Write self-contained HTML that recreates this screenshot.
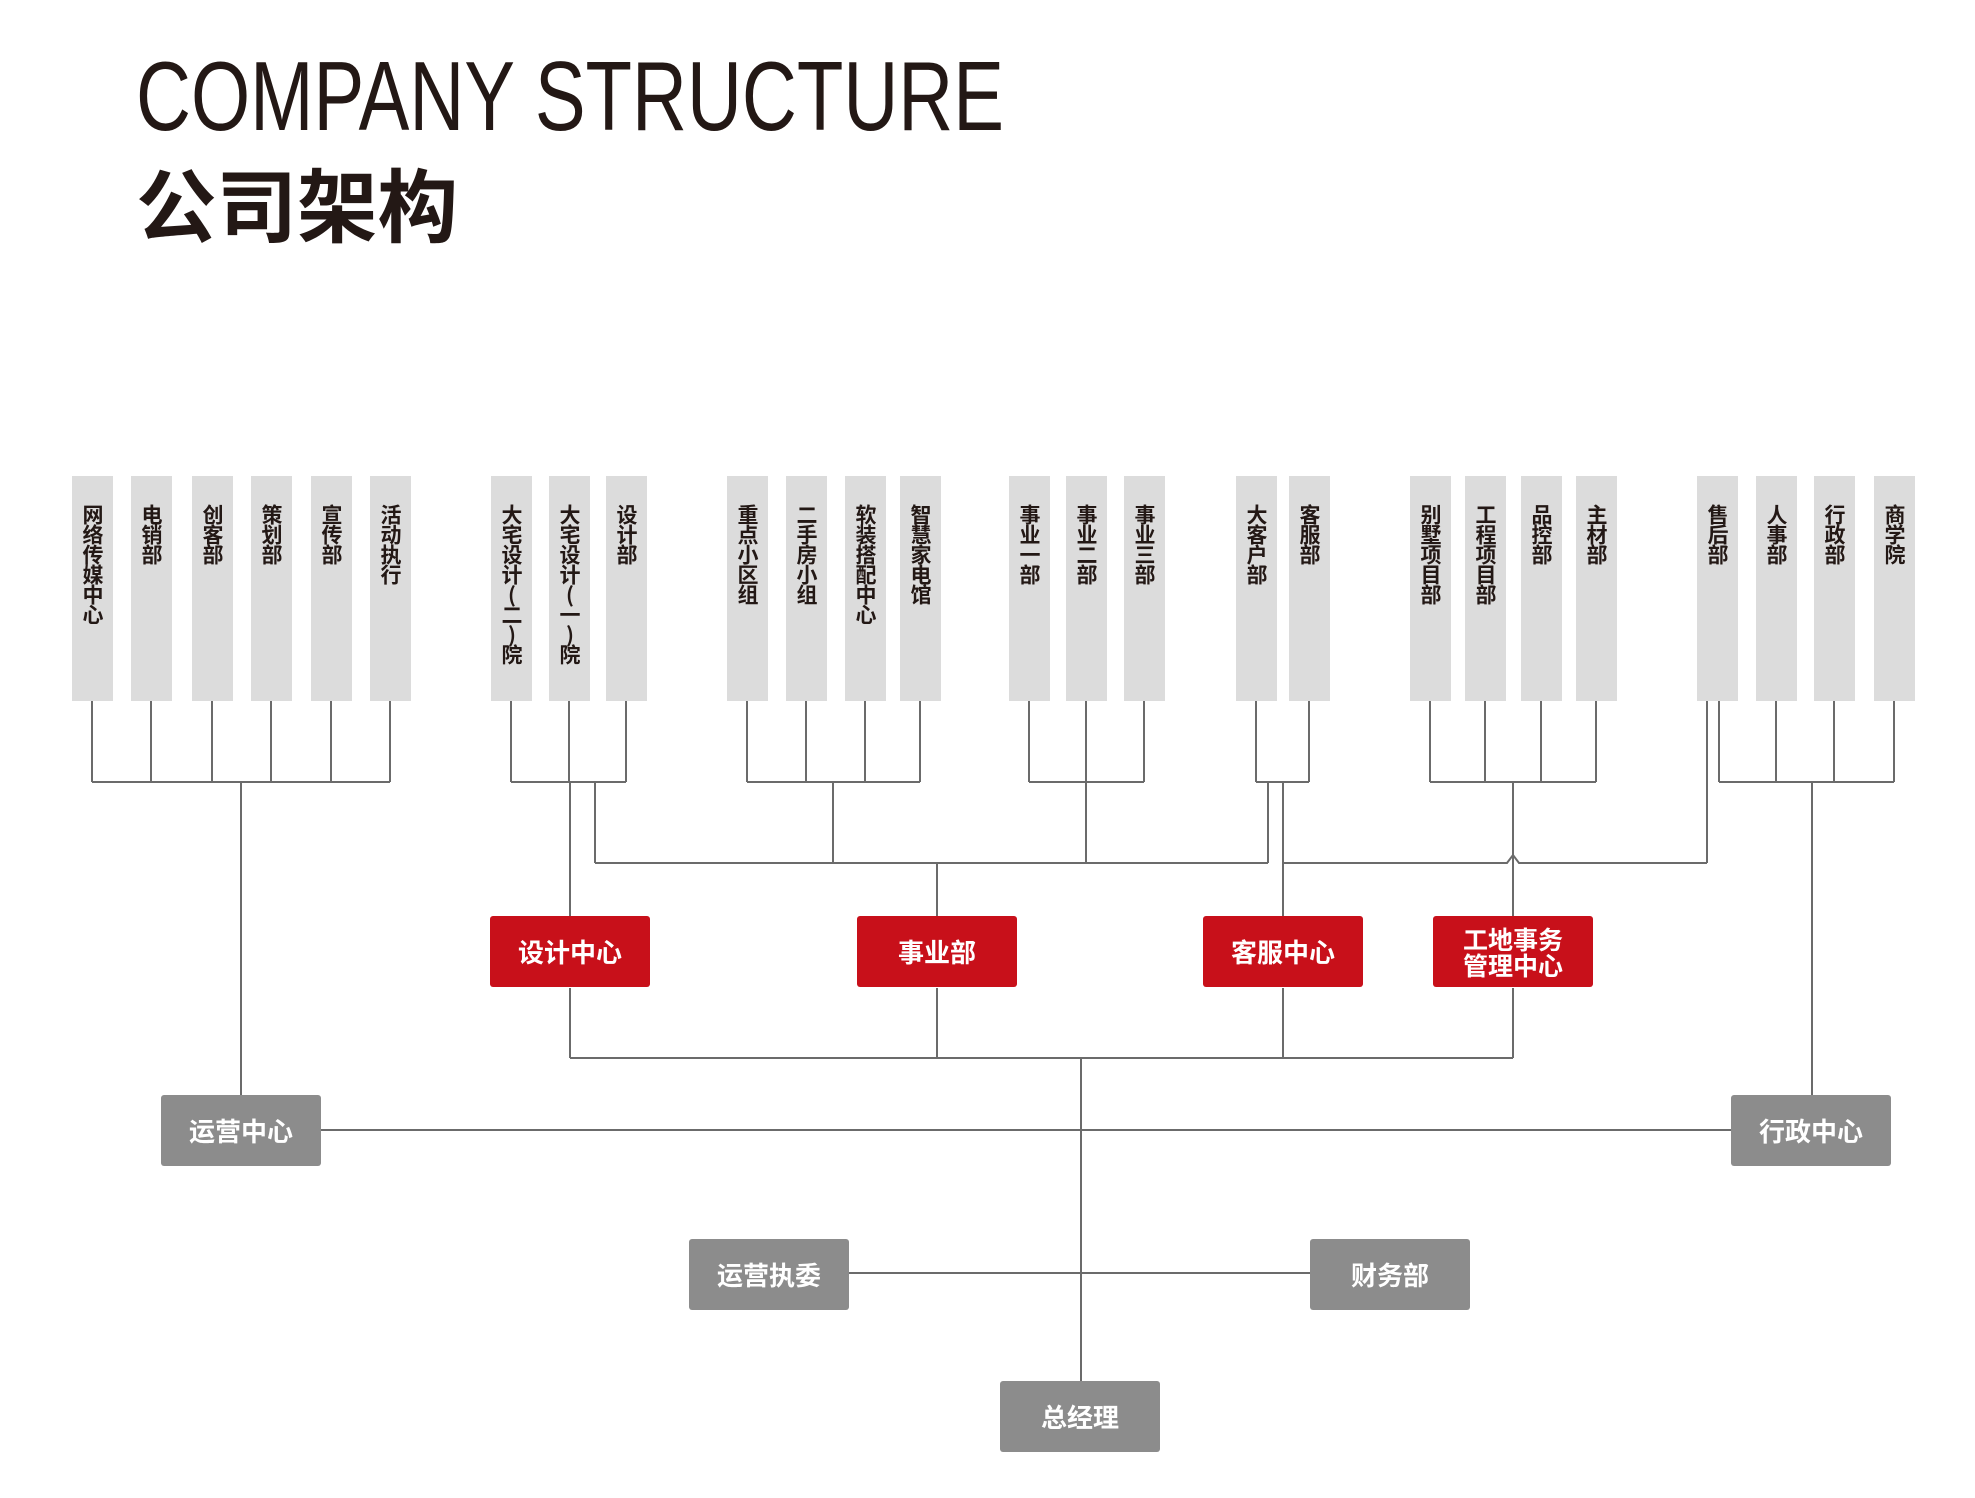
<!DOCTYPE html>
<html><head><meta charset="utf-8"><style>
body{margin:0;width:1975px;height:1498px;background:#fff;position:relative;overflow:hidden;font-family:"Liberation Sans","Noto Sans CJK SC",sans-serif}
.bar{position:absolute;top:476px;width:41px;height:225px;background:#dcdcdc}
.bar span{position:absolute;left:0;right:0;top:28px;writing-mode:vertical-rl;text-orientation:upright;margin:auto;font-weight:bold;font-size:21px;line-height:41px;color:#231815;letter-spacing:-1px;font-family:"Noto Sans CJK SC",sans-serif}
.box{position:absolute;width:160px;height:71px;display:flex;align-items:center;justify-content:center;color:#fff;font-weight:bold;font-size:26px;border-radius:3px;font-family:"Noto Sans CJK SC",sans-serif;text-align:center;line-height:26px}
.r{background:#c8101a}.g{background:#8c8c8c}
svg{position:absolute;left:0;top:0}
</style></head><body>
<svg width="1975" height="1498">
<text x="136" y="130" font-family="Liberation Sans" font-size="98" fill="#231815" textLength="868" lengthAdjust="spacingAndGlyphs">COMPANY STRUCTURE</text>
<text x="136" y="236" font-family="Noto Sans CJK SC" font-weight="bold" font-size="80" fill="#231815" textLength="322" lengthAdjust="spacingAndGlyphs">公司架构</text>
<g stroke="#6b6b6b" stroke-width="2" fill="none">
<path d="M92 701V782M151 701V782M212 701V782M271 701V782M331 701V782M390 701V782M92 782H390M241 782V1095"/>
<path d="M511 701V782M569 701V782M626 701V782M511 782H626M570 782V916M595 782V863"/>
<path d="M747 701V782M806 701V782M865 701V782M920 701V782M747 782H920M833 782V863"/>
<path d="M1029 701V782M1086 701V782M1144 701V782M1029 782H1144M1086 782V863"/>
<path d="M1256 701V782M1309 701V782M1256 782H1309M1268 782V863M1283 782V916"/>
<path d="M1430 701V782M1485 701V782M1541 701V782M1596 701V782M1430 782H1596M1513 782V916"/>
<path d="M1707 701V863M1719 701V782M1776 701V782M1834 701V782M1894 701V782M1719 782H1894M1812 782V1095"/>
<path d="M595 863H1268M1283 863H1507L1513 855L1519 863H1707M937 863V916"/>
<path d="M570 988V1058M937 988V1058M1283 988V1058M1513 988V1058M570 1058H1513M1081 1058V1381"/>
<path d="M321 1130H1731M849 1273H1310"/>
</g>
</svg>
<div class="bar" style="left:72px"><span>网络传媒中心</span></div>
<div class="bar" style="left:131px"><span>电销部</span></div>
<div class="bar" style="left:192px"><span>创客部</span></div>
<div class="bar" style="left:251px"><span>策划部</span></div>
<div class="bar" style="left:311px"><span>宣传部</span></div>
<div class="bar" style="left:370px"><span>活动执行</span></div>
<div class="bar" style="left:491px"><span>大宅设计(二)院</span></div>
<div class="bar" style="left:549px"><span>大宅设计(一)院</span></div>
<div class="bar" style="left:606px"><span>设计部</span></div>
<div class="bar" style="left:727px"><span>重点小区组</span></div>
<div class="bar" style="left:786px"><span>二手房小组</span></div>
<div class="bar" style="left:845px"><span>软装搭配中心</span></div>
<div class="bar" style="left:900px"><span>智慧家电馆</span></div>
<div class="bar" style="left:1009px"><span>事业一部</span></div>
<div class="bar" style="left:1066px"><span>事业二部</span></div>
<div class="bar" style="left:1124px"><span>事业三部</span></div>
<div class="bar" style="left:1236px"><span>大客户部</span></div>
<div class="bar" style="left:1289px"><span>客服部</span></div>
<div class="bar" style="left:1410px"><span>别墅项目部</span></div>
<div class="bar" style="left:1465px"><span>工程项目部</span></div>
<div class="bar" style="left:1521px"><span>品控部</span></div>
<div class="bar" style="left:1576px"><span>主材部</span></div>
<div class="bar" style="left:1697px"><span>售后部</span></div>
<div class="bar" style="left:1756px"><span>人事部</span></div>
<div class="bar" style="left:1814px"><span>行政部</span></div>
<div class="bar" style="left:1874px"><span>商学院</span></div>
<div class="box r" style="left:490px;top:916px">设计中心</div>
<div class="box r" style="left:857px;top:916px">事业部</div>
<div class="box r" style="left:1203px;top:916px">客服中心</div>
<div class="box r" style="left:1433px;top:916px;font-size:25px">工地事务<br>管理中心</div>
<div class="box g" style="left:161px;top:1095px">运营中心</div>
<div class="box g" style="left:1731px;top:1095px">行政中心</div>
<div class="box g" style="left:689px;top:1239px">运营执委</div>
<div class="box g" style="left:1310px;top:1239px">财务部</div>
<div class="box g" style="left:1000px;top:1381px">总经理</div>
</body></html>
